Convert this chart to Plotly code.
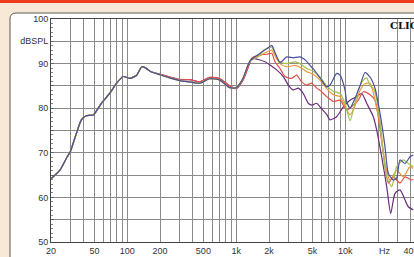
import plotly.graph_objects as go

# ---------------- data ----------------
freq_low = [20, 24, 28, 30, 33, 38, 42, 49, 58, 69, 80, 92, 106, 122, 136, 146, 162,
            200, 246, 304, 376, 464, 573, 708, 873, 1000, 1150]
blue_low = [64.2, 66.0, 69.0, 70.2, 73.2, 77.4, 78.3, 78.5, 81.1, 83.3, 85.6, 87.1, 86.7,
            87.4, 89.3, 89.1, 88.3, 87.5, 86.8, 86.2, 85.9, 85.6, 86.6, 86.3, 84.6, 84.6, 86.6]
warm_low = [64.2, 66.0, 69.0, 70.2, 73.2, 77.4, 78.3, 78.5, 81.1, 83.3, 85.6, 87.1, 86.7,
            87.4, 89.3, 89.1, 88.3, 87.6, 87.0, 86.4, 86.4, 85.9, 86.9, 86.6, 85.0, 84.4, 86.2]

blue_f = [1338, 1654, 1905, 2118, 2270, 2524, 2908, 3342, 3850, 4436, 4756, 5098, 5876, 6766,
          7254, 8358, 8962, 9960, 10326, 11070, 12304, 13678, 15196, 16892, 18776, 20860,
          23180, 24860, 27640, 29700, 31820, 35380, 39320, 42160]
blue_db = [90.6, 92.3, 93.3, 94.1, 92.5, 90.2, 91.5, 91.3, 91.5, 90.5, 89.6, 88.8, 86.8, 84.8,
           85.2, 87.8, 87.4, 84.1, 81.5, 80.0, 82.2, 85.0, 88.0, 87.0, 84.5, 78.9,
           71.4, 65.4, 63.9, 64.3, 68.4, 67.6, 69.1, 69.5]

green_f = [1338, 1654, 1773, 2118, 2270, 2524, 2908, 3463, 3850, 4436, 5098, 5876, 6766, 7780,
           8962, 9960, 11070, 11868, 13192, 14664, 15752, 16892, 18112, 19460, 20860, 21620,
           24040, 26720, 29700, 34140, 37940, 42160]
green_db = [90.5, 91.9, 93.0, 93.7, 92.3, 90.4, 90.0, 90.4, 90.0, 88.9, 88.3, 87.0, 85.0, 83.8,
            83.3, 81.1, 77.2, 79.6, 84.1, 86.3, 86.8, 85.0, 84.5, 82.0, 77.0, 72.9,
            64.6, 62.4, 66.9, 68.4, 67.6, 66.9]

orange_f = [1338, 1654, 1905, 2118, 2270, 2524, 2908, 3463, 3850, 4436, 5098, 5876, 6766, 7780,
            8962, 9960, 11070, 12304, 13678, 15196, 16892, 18112, 19460, 20860, 23180, 25780,
            29700, 34140, 39320, 42160]
orange_db = [90.5, 91.8, 92.6, 93.0, 91.8, 90.0, 89.3, 89.6, 89.2, 88.2, 87.6, 86.3, 84.4, 83.0,
             82.6, 80.5, 78.5, 80.5, 84.0, 85.5, 85.6, 83.5, 80.0, 76.6, 67.6, 63.9,
             66.1, 64.6, 66.9, 66.5]

red_f = [1338, 1436, 1654, 1905, 2118, 2270, 2524, 2806, 3231, 3590, 3991, 4436, 4930, 5478,
         5876, 6766, 7780, 8962, 10326, 11868, 13192, 14664, 16892, 18776, 20130, 22360,
         24860, 27640, 31820, 35380, 40760, 42160]
red_db = [90.2, 91.5, 91.9, 92.1, 92.3, 90.4, 88.9, 87.1, 86.7, 87.4, 85.9, 85.2, 85.6, 84.5,
          84.0, 82.6, 81.5, 81.8, 79.6, 80.7, 81.8, 83.7, 83.0, 81.8, 78.0, 70.0,
          63.2, 64.6, 63.2, 64.6, 63.9, 64.0]

purple_f = [1338, 1388, 1654, 1838, 2042, 2354, 2706, 3008, 3342, 3714, 4128, 4588, 4930, 5478,
            5876, 6766, 7254, 8358, 9610, 11070, 12752, 14178, 15752, 18112, 19460, 21620,
            24040, 26160, 28640, 31820, 37940, 42160]
purple_db = [90.3, 91.2, 90.8, 90.4, 89.7, 88.6, 87.1, 85.2, 84.1, 84.5, 83.3, 81.1, 80.7, 81.1,
             80.3, 78.6, 77.4, 78.1, 80.3, 81.8, 82.6, 83.3, 81.1, 78.1, 75.1, 69.1,
             62.4, 56.4, 60.9, 61.7, 57.9, 57.2]

y_ticks = [50, 55, 60, 65, 70, 75, 80, 85, 90, 95, 100]
y_text = ["50", "", "60", "", "70", "", "80", "", "90", "dBSPL", "100"]
x_grid = [20, 30, 40, 50, 60, 70, 80, 90, 100, 200, 300, 400, 500, 600, 700, 800, 900,
          1000, 2000, 3000, 4000, 5000, 6000, 7000, 8000, 9000, 10000, 20000, 30000, 40000]
x_labels = {20: "20", 50: "50", 100: "100", 200: "200", 500: "500", 1000: "1k",
            2000: "2k", 5000: "5k", 10000: "10k", 40000: "40k"}

# ---------------- figure ----------------
W, H = 414, 257
L, R, T, B = 51, 0, 19, 15
PW, PH = W - L - R, H - T - B


def px(x):
    return (x - L) / PW


def py(y):
    return (H - B - y) / PH


fig = go.Figure()
series = [
    ("purple", purple_f, purple_db, warm_low, "#6a2c7e"),
    ("red", red_f, red_db, warm_low, "#e0524a"),
    ("orange", orange_f, orange_db, blue_low, "#eb9a3a"),
    ("green", green_f, green_db, blue_low, "#9fc24c"),
    ("blue", blue_f, blue_db, blue_low, "#4a4f9c"),
]
for name, f, d, low, col in series:
    fig.add_trace(go.Scatter(x=freq_low + f, y=low + d, mode="lines", name=name,
                             line=dict(color=col, width=1.2, shape="spline", smoothing=0.6),
                             hoverinfo="skip"))

font = dict(family="Liberation Sans, Arial, sans-serif", size=9, color="#333333")

# panel and header shapes
r = 6
x0, y0, x1, y1 = 10, 13, 425, 275
path = (f"M {px(x0)},{py(y1)} L {px(x0)},{py(y0 + r)} "
        f"Q {px(x0)},{py(y0)} {px(x0 + r)},{py(y0)} L {px(x1)},{py(y0)} "
        f"L {px(x1)},{py(y1)} Z")
shapes = [
    dict(type="rect", xref="paper", yref="paper", x0=px(0), x1=px(420), y0=py(0), y1=py(3),
         fillcolor="#f03c1e", line=dict(width=0), layer="below"),
    dict(type="path", xref="paper", yref="paper", path=path, fillcolor="white",
         line=dict(color="#5a5a5a", width=1), layer="below"),
]

fig.update_layout(
    width=W, height=H, margin=dict(l=L, r=R, t=T, b=B, autoexpand=False),
    paper_bgcolor="#f8e9d7", plot_bgcolor="white",
    showlegend=False, shapes=shapes, font=font,
    xaxis=dict(type="log", range=[1.30103, 4.6313], tickvals=x_grid,
               ticktext=[x_labels.get(v, "") for v in x_grid], tickangle=0,
               ticklabeloverflow="allow", automargin=False,
               showgrid=True, gridcolor="#8a8a8a", gridwidth=1,
               showline=True, linecolor="#444444", linewidth=1, mirror=True,
               ticks="", zeroline=False, tickfont=font),
    yaxis=dict(range=[50, 100], tickvals=y_ticks, ticktext=y_text, automargin=False,
               showgrid=True, gridcolor="#8a8a8a", gridwidth=1,
               showline=True, linecolor="#444444", linewidth=1, mirror=True,
               ticks="inside", ticklen=3, tickcolor="#666666",
               minor=dict(dtick=1, ticks="inside", ticklen=2, tickcolor="#888888", showgrid=False),
               zeroline=False, tickfont=font),
    annotations=[
        dict(text="Hz", x=4.366, y=0, xref="x", yref="paper", yanchor="top", yshift=-2,
             showarrow=False, font=font),
        dict(text="<b>CLIO</b>", x=px(388), y=py(26), xref="paper", yref="paper",
             xanchor="left", yanchor="middle", showarrow=False,
             font=dict(family="DejaVu Serif, Liberation Serif, serif", size=10, color="#111111")),
    ],
)

fig.write_html("out.html", config={"displayModeBar": False},
               post_script="document.body.style.margin='0';document.body.style.overflow='hidden';")
